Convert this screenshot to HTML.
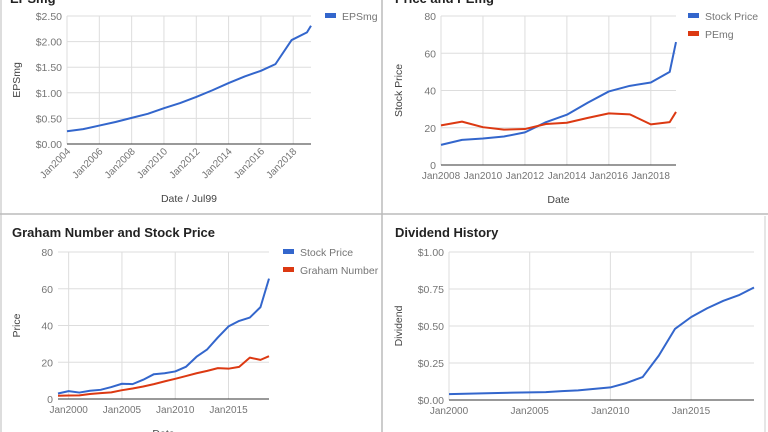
<!DOCTYPE html>
<html><head><meta charset="utf-8"><style>
body{margin:0;width:768px;height:432px;overflow:hidden;background:#fff;font-family:"Liberation Sans",sans-serif}
svg{display:block}
</style></head><body>
<svg id="c" width="768" height="432" xmlns="http://www.w3.org/2000/svg" font-family="Liberation Sans, sans-serif"></svg>
<script>
// Panel 1 data
const epsYears=[2004,2005,2006,2007,2008,2009,2010,2011,2012,2013,2014,2015,2016,2016.9,2017.9,2018.85,2019.1];
const epsVals=[0.25,0.29,0.36,0.43,0.51,0.59,0.70,0.80,0.92,1.05,1.19,1.32,1.43,1.56,2.03,2.18,2.31];
const epsTicks=[0,0.5,1,1.5,2,2.5];
const epsXTicks=[2004,2006,2008,2010,2012,2014,2016,2018];
// Panel 2 data
const peYears=[2008,2009,2010,2011,2012,2013,2014,2015,2016,2017,2018,2018.9,2019.2];
const peStock=[10.8,13.5,14.2,15.3,17.5,23,27,33.5,39.5,42.5,44.3,50,66];
const pePE=[21.3,23.3,20.3,19.0,19.3,22.0,22.7,25.3,27.7,27.2,21.8,23,28.5];
const peTicks=[0,20,40,60,80];
const peXTicks=[2008,2010,2012,2014,2016,2018];
// Panel 3 data
const grYears=[1999,2000,2001,2002,2003,2004,2005,2006,2007,2008,2009,2010,2011,2012,2013,2014,2015,2016,2017,2018,2018.8];
const grStock=[3,4.3,3.5,4.5,5,6.5,8.3,8.1,10.5,13.5,14,15,17.5,23,27,33.5,39.5,42.5,44.3,50,65.5];
const grGraham=[1.8,1.9,2.0,2.7,3.2,3.6,4.8,5.7,6.8,8.1,9.6,11,12.5,14,15.3,16.8,16.5,17.5,22.5,21.3,23.3];
const grTicks=[0,20,40,60,80];
const grXTicks=[2000,2005,2010,2015];
// Panel 4 data
const dvYears=[2000,2002,2004,2006,2007,2008,2009,2010,2011,2012,2013,2014,2015,2016,2017,2018,2018.9];
const dvVals=[0.04,0.045,0.05,0.053,0.06,0.065,0.075,0.085,0.115,0.155,0.30,0.48,0.56,0.62,0.67,0.71,0.76];
const dvTicks=[0,0.25,0.5,0.75,1];
const dvXTicks=[2000,2005,2010,2015];

const svg=document.getElementById('c');
const NS='http://www.w3.org/2000/svg';
function el(tag,at,parent){const e=document.createElementNS(NS,tag);for(const k in at)e.setAttribute(k,at[k]);(parent||svg).appendChild(e);return e;}
function txt(s,at,name){const e=el('text',at);e.textContent=s;

return e;}

let b=el('line',{x1:382,y1:0,x2:382,y2:432,stroke:'#bbb','stroke-width':1.5});


b=el('line',{x1:0,y1:214,x2:768,y2:214,stroke:'#bbb','stroke-width':1.5});


b=el('line',{x1:1,y1:0,x2:1,y2:432,stroke:'#bbb','stroke-width':1});


b=el('line',{x1:765,y1:216,x2:765,y2:432,stroke:'#ccc','stroke-width':1});



function chart(o){
  const g=el('g',{});
  
  
  const X=v=>o.x0+(v-o.xmin)/(o.xmax-o.xmin)*(o.x1-o.x0);
  const Y=v=>o.y0-(v-o.ymin)/(o.ymax-o.ymin)*(o.y0-o.y1);
  o.yTicks.forEach(t=>{
    const l=el('line',{x1:o.x0,x2:o.x1,y1:Y(t),y2:Y(t),stroke:'#ddd'},g);
    
    
    const tt=txt(o.yFmt(t),{x:o.x0-5,y:Y(t)+4,'font-size':10.5,fill:'#757575','text-anchor':'end'},'y-tick-label');g.appendChild(tt);
  });
  o.xTicks.forEach(t=>{
    const l=el('line',{x1:X(t),x2:X(t),y1:o.y1,y2:o.y0,stroke:'#ddd'},g);
    
    
    let tt;
    if(o.rot){tt=txt('Jan'+t,{x:X(t)+4,y:o.y0+8,'font-size':10,fill:'#757575','text-anchor':'end',transform:`rotate(-45 ${X(t)+4} ${o.y0+8})`},'x-tick-label');}
    else tt=txt('Jan'+t,{x:X(t),y:o.y0+14,'font-size':10,fill:'#757575','text-anchor':'middle'},'x-tick-label');
    g.appendChild(tt);
  });
  const base=el('line',{x1:o.x0,x2:o.x1,y1:o.y0,y2:o.y0,stroke:'#333'},g);
  
  
  o.series.forEach((s,i)=>{
    const p=el('polyline',{points:s.vals.map((v,j)=>X(s.xs[j])+','+Y(v)).join(' '),fill:'none',stroke:s.color,'stroke-width':2,'stroke-linejoin':'round'},g);
    
    
    if(o.legend){
      const r=el('rect',{x:o.legend[0],y:o.legend[1]+i*18-3,width:11,height:5,fill:s.color},g);
      
      
      g.appendChild(txt(s.label,{x:o.legend[0]+17,y:o.legend[1]+i*18+4,'font-size':10.5,fill:'#757575'},'legend-entry'));
    }
  });
  const yl=txt(o.yLabel,{x:0,y:0,'font-size':10.5,fill:'#444','text-anchor':'middle',transform:`translate(${o.yLabelX},${(o.y0+o.y1)/2}) rotate(-90)`},'y-axis-title');g.appendChild(yl);
  if(o.xLabel){g.appendChild(txt(o.xLabel,{x:(o.x0+o.x1)/2,y:o.xLabelY,'font-size':10.5,fill:'#444','text-anchor':'middle'},'x-axis-title'));}
}
const blue='#3366cc',red='#dc3912';
chart({name:'eps-chart',x0:67,x1:311,xmin:2004,xmax:2019.1,y0:144,y1:16,ymin:0,ymax:2.5,yTicks:epsTicks,yFmt:v=>'$'+v.toFixed(2),xTicks:epsXTicks,rot:true,
  series:[{name:'eps-line',label:'EPSmg',xs:epsYears,vals:epsVals,color:blue}],legend:[325,16],yLabel:'EPSmg',yLabelX:20,xLabel:'Date / Jul99',xLabelY:202});
txt('EPSmg',{x:10,y:3,'font-size':13,'font-weight':'bold',fill:'#222'},'chart-title');
chart({name:'price-pe-chart',x0:441,x1:676,xmin:2008,xmax:2019.2,y0:165,y1:16,ymin:0,ymax:80,yTicks:peTicks,yFmt:v=>v,xTicks:peXTicks,
  series:[{name:'stock-price-line',label:'Stock Price',xs:peYears,vals:peStock,color:blue},{name:'pemg-line',label:'PEmg',xs:peYears,vals:pePE,color:red}],legend:[688,16],yLabel:'Stock Price',yLabelX:402,xLabel:'Date',xLabelY:203});
txt('Price and PEmg',{x:395,y:3,'font-size':13,'font-weight':'bold',fill:'#222'},'chart-title');
chart({name:'graham-chart',x0:58,x1:269,xmin:1999,xmax:2018.8,y0:399,y1:252,ymin:0,ymax:80,yTicks:grTicks,yFmt:v=>v,xTicks:grXTicks,
  series:[{name:'stock-price-line',label:'Stock Price',xs:grYears,vals:grStock,color:blue},{name:'graham-number-line',label:'Graham Number',xs:grYears,vals:grGraham,color:red}],legend:[283,252],yLabel:'Price',yLabelX:20,xLabel:'Date',xLabelY:437});
txt('Graham Number and Stock Price',{x:12,y:237,'font-size':13,'font-weight':'bold',fill:'#222'},'chart-title');
chart({name:'dividend-chart',x0:449,x1:754,xmin:2000,xmax:2018.9,y0:400,y1:252,ymin:0,ymax:1,yTicks:dvTicks,yFmt:v=>'$'+v.toFixed(2),xTicks:dvXTicks,
  series:[{name:'dividend-line',label:'Dividend',xs:dvYears,vals:dvVals,color:blue}],yLabel:'Dividend',yLabelX:402});
txt('Dividend History',{x:395,y:237,'font-size':13,'font-weight':'bold',fill:'#222'},'chart-title');
</script>
</body></html>
